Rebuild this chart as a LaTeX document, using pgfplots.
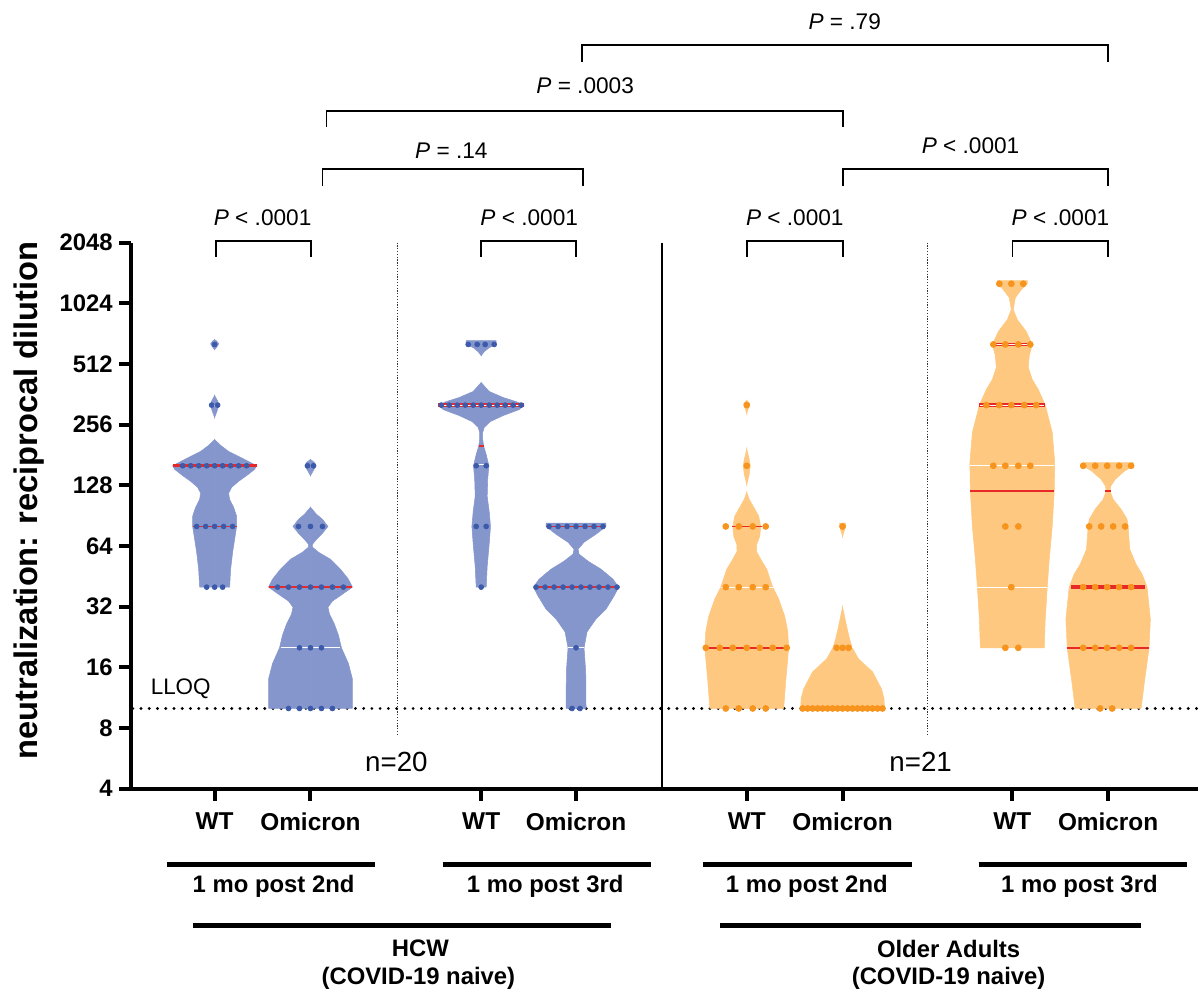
\documentclass[border=0pt]{standalone}
\usepackage{pgfplots}
\pgfplotsset{compat=1.18}
\usepackage{pgfplotstable}
\usepackage{fontspec}
\setmainfont{Liberation Sans}

\definecolor{vblue}{HTML}{8596CD}
\definecolor{dblue}{HTML}{3C5AAA}
\definecolor{vorange}{HTML}{FEC880}
\definecolor{dorange}{HTML}{F7941E}
\definecolor{mred}{HTML}{E82828}

% violin outlines: y = titre, w = half width (px)
\pgfplotstableread{
y w
603 0
630 3
645 4
665 2
676 0
}\vAa
\pgfplotstableread{
y w
278 0
300 2.5
320 4
335 3
357 0
}\vAb
\pgfplotstableread{
y w
40 0
40 15
49 16
59.6 18
69 20
80 22
90 22
99.6 19
109 15
117 14
125 17
134 24
143 32
153.6 40
160 42
172 30
188.5 14
202 6
211 2
216 0
}\vAc
\pgfplotstableread{
y w
143 0
155 4
160 5.5
166 4
172 0
}\vBa
\pgfplotstableread{
y w
10 0
10 42
14 42
16.7 38
20 31
23.1 28
26.2 24
29.4 19
31.8 17.5
34.1 22
36.9 32
40 42
43.8 38
49.1 30
55 20
59.6 8
63.1 2
65.3 2
69 6
74 12
80 17.5
86.8 12
91.9 6
99.6 0
}\vBb
\pgfplotstableread{
y w
563 0
589 3
617 8
640 15
668 15
668 0
}\vCa
\pgfplotstableread{
y w
40 0
40 5
50.7 6
65.3 8
80 9.3
95 8
112.9 6
137 6.5
160 7.7
182 5
200 2.5
216 1.5
234 1.5
248 3
265 9
284 22
304 38
320 43
333 35
349 22
374 8
414 0
}\vCb
\pgfplotstableread{
y w
10 0
10 10
15.2 9.7
20 8
24 11
27.8 20
31.1 30
36.1 38
40 42.7
43.8 37
49.1 25
53.8 12
58.3 3
61.7 2
66.8 8
73.2 20
80 30
83 30
83 0
}\vD
\pgfplotstableread{
y w
291 0
312 2
325 3
338 0
}\vEa
\pgfplotstableread{
y w
129.5 0
145 2.5
160 3.5
172 2.5
193 0
}\vEb
\pgfplotstableread{
y w
10 0
10 37
13.6 39
20 42
24.2 41
28.7 38
34.9 32
40 26
49.1 20
55 14
60.2 9.7
65.3 10
71.4 13
80 14
89.9 12
99.6 7
109 2.5
117.9 0
}\vEc
\pgfplotstableread{
y w
71.4 0
80 3
83 3
83 0
}\vFa
\pgfplotstableread{
y w
10 0
10 42
11.2 41.5
12.5 39
15.2 30
17.6 16
20 9.7
22.1 7
25.6 4
29.4 1.5
31.8 0
}\vFb
\pgfplotstableread{
y w
20 0
20 32
27.8 33
40 35
55 37
80 40
119.6 42
166 42.5
234 40
320 33
382.4 26
428.6 20
491.6 16
563 17
640 20
741 14
849 5
952 1
1091 3
1196 9
1280 15
1325 15
1325 0
}\vG
\pgfplotstableread{
y w
10 0
10 33
14 36.7
20 41
27.8 42.3
40 39
46.4 34
51.9 28
61.5 21.7
80 20
86.8 19
97.3 13
109 5
119.6 2
126.5 2.5
137 7
150 16
160 25
166 25
166 0
}\vH

\newcommand{\vio}[3]{%
  \addplot[draw=#3, fill=#3, line width=0.3pt] table[x expr={#1+\thisrow{w}}, y=y] {#2} -- cycle;
  \addplot[draw=#3, fill=#3, line width=0.3pt] table[x expr={#1-\thisrow{w}}, y=y] {#2} -- cycle;}

\begin{document}
\begin{tikzpicture}
\begin{axis}[
    at={(2.62cm,-15.8cm)}, anchor=south west,
    scale only axis, width=21.38cm, height=10.94cm,
    xmin=131, xmax=1200,
    ymode=log, log basis y=2, ymin=4, ymax=2048,
    axis x line=bottom, axis y line=left,
    axis line style={-, line width=2.3pt},
    ytick={4,8,16,32,64,128,256,512,1024,2048},
    yticklabels={4,8,16,32,64,128,256,512,1024,2048},
    yminorticks=false,
    xtick={215,311,482,577,748,844,1014,1110},
    xticklabels={WT,Omicron,WT,Omicron,WT,Omicron,WT,Omicron},
    tick align=outside, major tick length=0.24cm,
    tick style={black, line width=2.3pt},
    yticklabel style={font=\bfseries\fontsize{13.6}{15}\selectfont},
    xticklabel style={font=\bfseries\fontsize{13.9}{15}\selectfont, yshift=-0.12cm},
    clip=false,
]
% LLOQ
\addplot[black, line width=1.8pt, line cap=round, dash pattern=on 0pt off 4.7pt] coordinates {(133,10) (1200,10)};

% HCW
\vio{215}{\vAa}{vblue}
\vio{215}{\vAb}{vblue}
\vio{215}{\vAc}{vblue}
\vio{311}{\vBa}{vblue}
\vio{311}{\vBb}{vblue}
\vio{482}{\vCa}{vblue}
\vio{482}{\vCb}{vblue}
\vio{577}{\vD}{vblue}
% Older adults
\vio{748}{\vEa}{vorange}
\vio{748}{\vEb}{vorange}
\vio{748}{\vEc}{vorange}
\vio{844}{\vFa}{vorange}
\vio{844}{\vFb}{vorange}
\vio{1014}{\vG}{vorange}
\vio{1110}{\vH}{vorange}

% individual titres
\addplot[only marks, mark=*, mark size=1.4pt, dblue] coordinates {
 (215,640) (212,320) (218,320)
 (183,160) (191,160) (199,160) (207,160) (215,160) (223,160) (231,160) (239,160) (247,160)
 (197,80) (206,80) (215,80) (224,80) (233,80)
 (207,40) (215,40) (223,40)
 (308,160) (314,160)
 (299,80) (311,80) (323,80)
 (278,40) (289,40) (300,40) (311,40) (322,40) (333,40) (344,40)
 (300,20) (311,20) (322,20)
 (289,10) (300,10) (311,10) (322,10) (333,10)
 (469,640) (478,640) (486,640) (495,640)
 (442,320) (450,320) (458,320) (466,320) (474,320) (482,320) (490,320) (498,320) (506,320) (514,320) (522,320)
 (477,160) (487,160) (477,80) (487,80) (482,40)
 (550,80) (559,80) (568,80) (577,80) (586,80) (595,80) (604,80)
 (537,40) (546,40) (555,40) (564,40) (573,40) (582,40) (591,40) (600,40) (609,40) (618,40)
 (577,20) (573,10) (581,10)
};
\addplot[only marks, mark=*, mark size=1.7pt, dorange] coordinates {
 (748,320) (748,160)
 (727,80) (740,80) (754,80) (767,80)
 (727,40) (740,40) (754,40) (767,40)
 (707,20) (721,20) (734,20) (748,20) (761,20) (774,20) (788,20)
 (727,10) (740,10) (754,10) (767,10)
 (844,80) (838,20) (844,20) (850,20)
 (804,10) (809,10) (814,10) (819,10) (824,10) (829,10) (834,10) (839,10) (844,10)
 (849,10) (854,10) (859,10) (864,10) (869,10) (874,10) (879,10) (884,10)
 (1001,1280) (1013,1280) (1025,1280)
 (995,640) (1007,640) (1020,640) (1032,640)
 (988,320) (1001,320) (1013,320) (1026,320) (1038,320)
 (995,160) (1007,160) (1020,160) (1032,160)
 (1007,80) (1020,80) (1013,40) (1007,20) (1020,20)
 (1085,160) (1097,160) (1109,160) (1121,160) (1133,160)
 (1091,80) (1103,80) (1115,80) (1127,80)
 (1085,40) (1097,40) (1109,40) (1121,40) (1133,40)
 (1085,20) (1097,20) (1109,20) (1121,20) (1133,20)
 (1102,10) (1114,10)
};

% medians and quartiles
\addplot[mred, line width=1.8pt] coordinates {(173,160) (257,160)};
\addplot[mred, line width=1pt] coordinates {(193,80) (237,80)};
\addplot[white, line width=0.6pt] coordinates {(211,320) (219,320)};
\addplot[mred, line width=1.4pt] coordinates {(269,40) (353,40)};
\addplot[white, line width=0.6pt] coordinates {(281,20) (341,20)};
\addplot[mred, line width=2pt] coordinates {(439,320) (525,320)};
\addplot[white, line width=0.5pt] coordinates {(440,320) (524,320)};
\addplot[mred, line width=1.2pt] coordinates {(479.5,200) (484.5,200)};
\addplot[white, line width=0.6pt] coordinates {(475,163) (489,163)};
\addplot[mred, line width=0.9pt] coordinates {(547,80) (607,80)};
\addplot[mred, line width=1.4pt] coordinates {(535,40) (620,40)};
\addplot[white, line width=0.6pt] coordinates {(569,20) (585,20)};
\addplot[mred, line width=0.9pt] coordinates {(733,80) (763,80)};
\addplot[white, line width=0.7pt] coordinates {(722,40) (774,40)};
\addplot[mred, line width=0.9pt] coordinates {(706,20) (790,20)};
\addplot[mred, line width=1.2pt] coordinates {(802,10) (886,10)};
\addplot[white, line width=0.7pt] coordinates {(834,20) (854,20)};
\addplot[mred, line width=1.6pt] coordinates {(994,640) (1034,640)};
\addplot[white, line width=0.4pt] coordinates {(995,640) (1033,640)};
\addplot[mred, line width=2.2pt] coordinates {(981,320) (1047,320)};
\addplot[white, line width=0.5pt] coordinates {(982,320) (1046,320)};
\addplot[white, line width=0.7pt] coordinates {(972,160) (1056,160)};
\addplot[mred, line width=1pt] coordinates {(972,119.6) (1056,119.6)};
\addplot[white, line width=0.7pt] coordinates {(979,40) (1049,40)};
\addplot[mred, line width=1.2pt] coordinates {(1107,119.6) (1113,119.6)};
\addplot[mred, line width=2pt] coordinates {(1073,40) (1147,40)};
\addplot[mred, line width=1.1pt] coordinates {(1069,20) (1151,20)};
\end{axis}

\begin{scope}[x=0.02cm, y=-0.02cm]
\path (0,0) rectangle (1200,993);
% separators
\draw[black!80, line width=0.8pt, dash pattern=on 0.7pt off 0.9pt] (398,243) -- (398,737);
\draw[black!80, line width=0.8pt, dash pattern=on 0.7pt off 0.9pt] (929,243) -- (929,737);
\draw[black, line width=0.9pt] (663,243) -- (663,790);
% y label
\node[rotate=90, font=\bfseries\fontsize{18.6}{20}\selectfont] at (29,501) {neutralization: reciprocal dilution};
\node[font=\fontsize{12.8}{14}\selectfont] at (181,690) {LLOQ};
\node[font=\fontsize{15.8}{17}\selectfont] at (397,763) {n=20};
\node[font=\fontsize{15.8}{17}\selectfont] at (922,763) {n=21};
% significance brackets
\begin{scope}[line width=1.1pt]
\draw (216,257) -- (216,241) -- (311,241) -- (311,257);
\draw (482,257) -- (482,241) -- (577,241) -- (577,257);
\draw (748,257) -- (748,241) -- (844,241) -- (844,257);
\draw (1014,257) -- (1014,241) -- (1110,241) -- (1110,257);
\draw (323,186) -- (323,169) -- (584,169) -- (584,186);
\draw (844,186) -- (844,169) -- (1110,169) -- (1110,186);
\draw (327,127) -- (327,111) -- (844,111) -- (844,127);
\draw (583,62) -- (583,45.5) -- (1110,45.5) -- (1110,62);
\end{scope}
\begin{scope}[font=\fontsize{12.9}{14}\selectfont]
\node at (263,218) {\textit{P} < .0001};
\node at (530,218) {\textit{P} < .0001};
\node at (796,218) {\textit{P} < .0001};
\node at (1062,218) {\textit{P} < .0001};
\node at (452,151) {\textit{P} = .14};
\node at (972,146) {\textit{P} < .0001};
\node at (586,86) {\textit{P} = .0003};
\node at (846,22) {\textit{P} = .79};
\end{scope}
% group bars
\begin{scope}[line width=2.6pt]
\draw (167,866) -- (376,866);
\draw (444,866) -- (652,866);
\draw (704,866) -- (913,866);
\draw (980,866) -- (1189,866);
\draw (193,927) -- (612,927);
\draw (721,927) -- (1143,927);
\end{scope}
\begin{scope}[font=\bfseries\fontsize{13.6}{15}\selectfont]
\node at (274,888) {1 mo post 2nd};
\node at (546,888) {1 mo post 3rd};
\node at (808,888) {1 mo post 2nd};
\node at (1081,888) {1 mo post 3rd};
\node at (421,950) {HCW};
\node at (419,980) {(COVID-19 naive)};
\node at (950,950) {Older Adults};
\node at (950,980) {(COVID-19 naive)};
\end{scope}
\end{scope}
\end{tikzpicture}
\end{document}
